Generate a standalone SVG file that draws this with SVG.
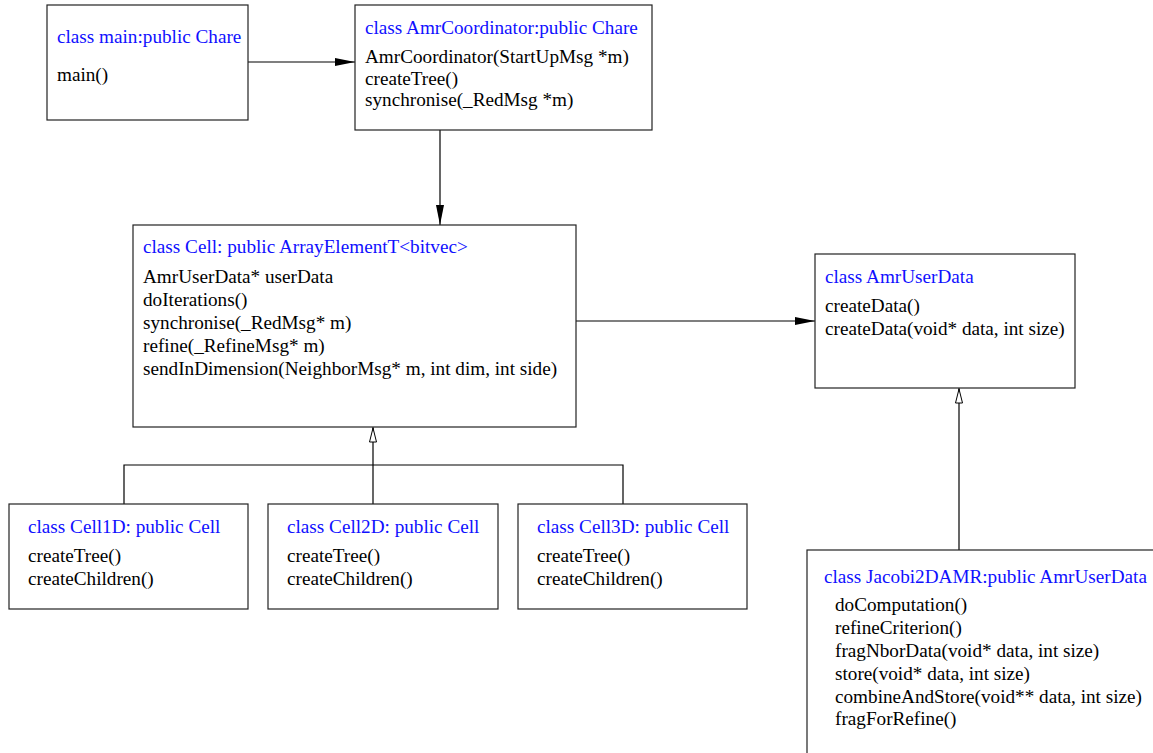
<svg xmlns="http://www.w3.org/2000/svg" width="1153" height="753" viewBox="0 0 1153 753">
<style>
.box{fill:#fff;stroke:#222;stroke-width:1.2}
.t{font-family:"Liberation Serif","Times New Roman",serif;font-size:19.2px;fill:#000}
.h{fill:#1010ff}
.c{fill:none;stroke:#000;stroke-width:1.2}
</style>
<defs>
<marker id="fa" viewBox="0 0 20 10" refX="20" refY="5" markerWidth="20" markerHeight="10" markerUnits="userSpaceOnUse" orient="auto">
<path d="M0,1 L20,5 L0,9 Z" fill="#000"/>
</marker>
<marker id="ha" viewBox="0 0 16 10" refX="16" refY="5" markerWidth="16" markerHeight="10" markerUnits="userSpaceOnUse" orient="auto">
<path d="M1,1.5 L15,5 L1,8.5 Z" fill="#fff" stroke="#000" stroke-width="1"/>
</marker>
</defs>
<rect width="1153" height="753" fill="#fff"/>
<g id="connectors">
<line class="c" x1="248" y1="62" x2="355" y2="62" marker-end="url(#fa)"/>
<line class="c" x1="440" y1="130" x2="440" y2="225" marker-end="url(#fa)"/>
<line class="c" x1="576" y1="321" x2="815" y2="321" marker-end="url(#fa)"/>
<line class="c" x1="373" y1="504" x2="373" y2="427" marker-end="url(#ha)"/>
<polyline class="c" points="124,504 124,465 623,465 623,504"/>
<line class="c" x1="959" y1="550" x2="959" y2="388" marker-end="url(#ha)"/>
</g>
<g id="main">
<rect class="box" x="47" y="5" width="201" height="115"/>
<text class="t h" x="57" y="43">class main:public Chare</text>
<text class="t" x="57" y="81">main()</text>
</g>
<g id="AmrCoordinator">
<rect class="box" x="355" y="5" width="297" height="125"/>
<text class="t h" x="365" y="34">class AmrCoordinator:public Chare</text>
<text class="t" x="365" y="63">AmrCoordinator(StartUpMsg *m)</text>
<text class="t" x="365" y="85">createTree()</text>
<text class="t" x="365" y="106">synchronise(_RedMsg *m)</text>
</g>
<g id="Cell">
<rect class="box" x="133" y="225" width="443" height="202"/>
<text class="t h" x="143" y="253">class Cell: public ArrayElementT&lt;bitvec&gt;</text>
<text class="t" x="143" y="283">AmrUserData* userData</text>
<text class="t" x="143" y="306">doIterations()</text>
<text class="t" x="143" y="329">synchronise(_RedMsg* m)</text>
<text class="t" x="143" y="352">refine(_RefineMsg* m)</text>
<text class="t" x="143" y="375">sendInDimension(NeighborMsg* m, int dim, int side)</text>
</g>
<g id="AmrUserData">
<rect class="box" x="815" y="254" width="260" height="134"/>
<text class="t h" x="825" y="283">class AmrUserData</text>
<text class="t" x="825" y="312">createData()</text>
<text class="t" x="825" y="335">createData(void* data, int size)</text>
</g>
<g id="Cell1D">
<rect class="box" x="9" y="504" width="239" height="105"/>
<text class="t h" x="28" y="533">class Cell1D: public Cell</text>
<text class="t" x="28" y="562">createTree()</text>
<text class="t" x="28" y="585">createChildren()</text>
</g>
<g id="Cell2D">
<rect class="box" x="268" y="504" width="230" height="105"/>
<text class="t h" x="287" y="533">class Cell2D: public Cell</text>
<text class="t" x="287" y="562">createTree()</text>
<text class="t" x="287" y="585">createChildren()</text>
</g>
<g id="Cell3D">
<rect class="box" x="518" y="504" width="229" height="105"/>
<text class="t h" x="537" y="533">class Cell3D: public Cell</text>
<text class="t" x="537" y="562">createTree()</text>
<text class="t" x="537" y="585">createChildren()</text>
</g>
<g id="Jacobi2DAMR">
<rect class="box" x="807" y="550" width="360" height="220"/>
<text class="t h" x="824" y="583">class Jacobi2DAMR:public AmrUserData</text>
<text class="t" x="835" y="611">doComputation()</text>
<text class="t" x="835" y="634">refineCriterion()</text>
<text class="t" x="835" y="657">fragNborData(void* data, int size)</text>
<text class="t" x="835" y="680">store(void* data, int size)</text>
<text class="t" x="835" y="703">combineAndStore(void** data, int size)</text>
<text class="t" x="835" y="725">fragForRefine()</text>
</g>
</svg>
